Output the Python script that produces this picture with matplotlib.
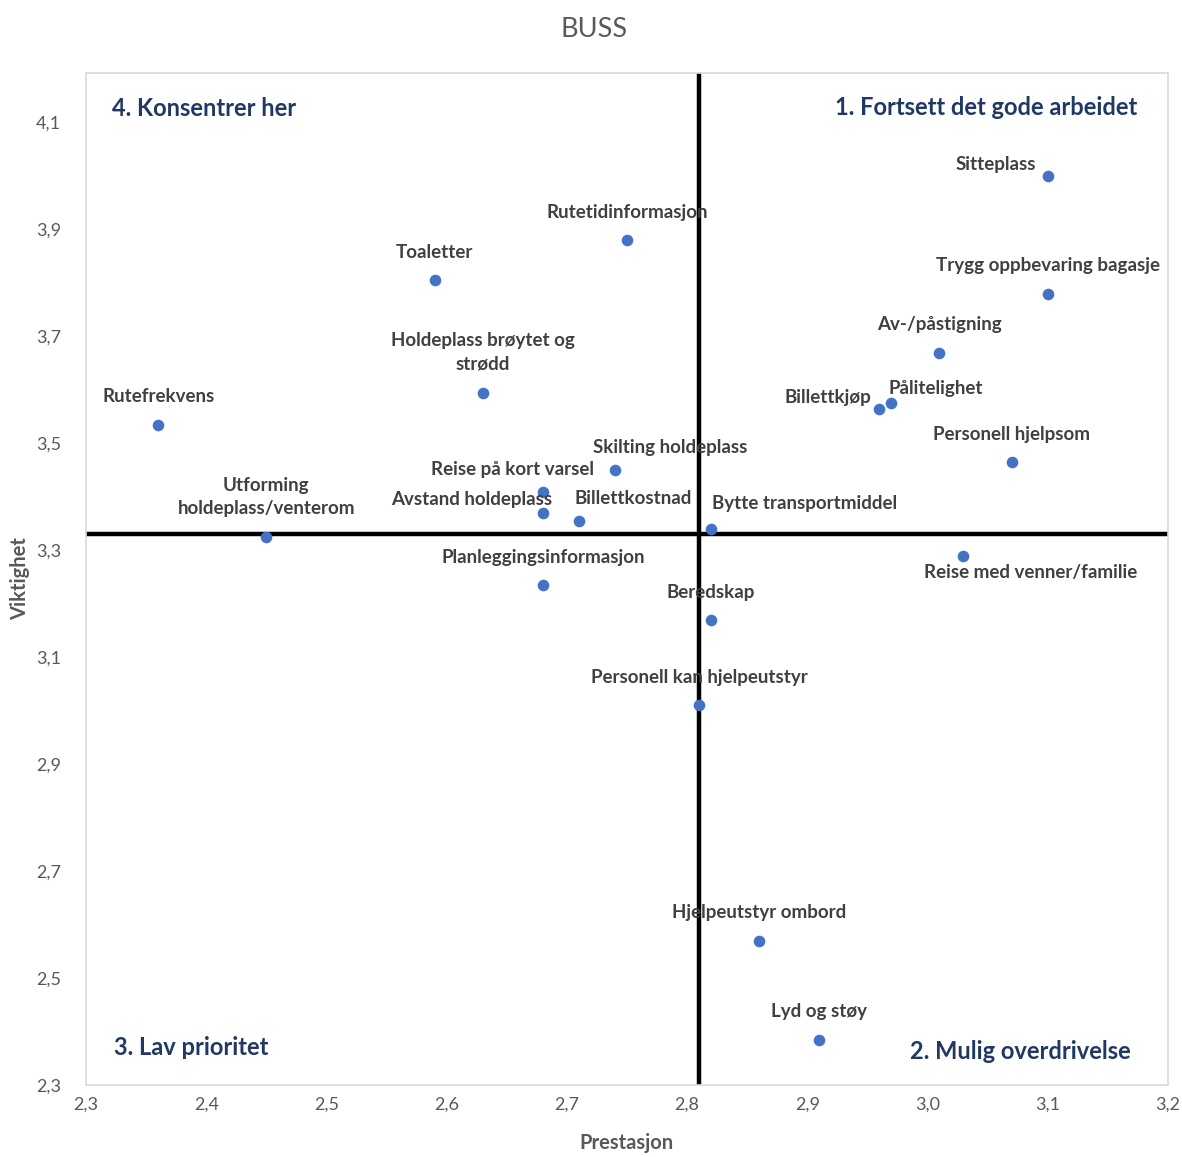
import matplotlib.pyplot as plt
from matplotlib.ticker import FuncFormatter

# Prestasjon (x) og viktighet (y) per faktor
faktorer = ["Sitteplass", "Trygg oppbevaring bagasje", "Av-/påstigning", "Pålitelighet",
            "Billettkjøp", "Personell hjelpsom", "Reise med venner/familie",
            "Bytte transportmiddel", "Beredskap", "Personell kan hjelpeutstyr",
            "Hjelpeutstyr ombord", "Lyd og støy", "Rutetidinformasjon", "Toaletter",
            "Holdeplass brøytet og\nstrødd", "Rutefrekvens", "Skilting holdeplass",
            "Reise på kort varsel", "Avstand holdeplass", "Billettkostnad",
            "Utforming\nholdeplass/venterom", "Planleggingsinformasjon"]
prestasjon = [3.10, 3.10, 3.01, 2.97, 2.96, 3.07, 3.03, 2.82, 2.82, 2.81, 2.86, 2.91,
              2.75, 2.59, 2.63, 2.36, 2.74, 2.68, 2.68, 2.71, 2.45, 2.68]
viktighet = [4.00, 3.78, 3.67, 3.575, 3.565, 3.465, 3.29, 3.34, 3.17, 3.01, 2.57, 2.385,
             3.88, 3.805, 3.595, 3.535, 3.45, 3.41, 3.37, 3.355, 3.325, 3.235]

# skillelinjer mellom kvadrantene
skille_x = 2.81
skille_y = 3.33

# etikettplassering: (dx, dy) i punkter, horisontal justering
etikett_pos = {
    "Sitteplass": (-8, 8, "right"),
    "Pålitelighet": (-2, 11, "left"),
    "Billettkjøp": (-6, 8, "right"),
    "Reise med venner/familie": (48, -12, "center"),
    "Bytte transportmiddel": (1, 18, "left"),
    "Skilting holdeplass": (-16, 16, "left"),
    "Reise på kort varsel": (37, 16, "right"),
    "Avstand holdeplass": (7, 10, "right"),
    "Billettkostnad": (-3, 16, "left"),
    "Holdeplass brøytet og\nstrødd": (0, 29, "center"),
    "Utforming\nholdeplass/venterom": (0, 29, "center"),
}

plt.rcParams['font.family'] = ['Lato', 'DejaVu Sans']

fig = plt.figure(figsize=(11.82, 11.57), dpi=100)
ax = fig.add_axes([0.0728, 0.0622, 0.9152, 0.8748])

ax.axvline(skille_x, color="black", lw=3.2, zorder=1)
ax.axhline(skille_y, color="black", lw=3.2, zorder=1)
ax.scatter(prestasjon, viktighet, s=70, color="#4472C4", zorder=3, linewidths=0)

for navn, x, y in zip(faktorer, prestasjon, viktighet):
    dx, dy, ha = etikett_pos.get(navn, (0, 20, "center"))
    ax.annotate(navn, (x, y), xytext=(dx, dy), textcoords="offset points",
                ha=ha, va="center", fontsize=13.5, fontweight="bold",
                color="#404040", linespacing=1.45, zorder=4)

kvadrant_farge = "#203864"
ax.text(0.024, 0.965, "4. Konsentrer her", transform=ax.transAxes, ha="left", va="center",
        fontsize=17, fontweight="bold", color=kvadrant_farge)
ax.text(0.972, 0.966, "1. Fortsett det gode arbeidet", transform=ax.transAxes, ha="right",
        va="center", fontsize=17, fontweight="bold", color=kvadrant_farge)
ax.text(0.026, 0.037, "3. Lav prioritet", transform=ax.transAxes, ha="left", va="center",
        fontsize=17, fontweight="bold", color=kvadrant_farge)
ax.text(0.966, 0.033, "2. Mulig overdrivelse", transform=ax.transAxes, ha="right",
        va="center", fontsize=17, fontweight="bold", color=kvadrant_farge)

ax.set_xlim(2.3, 3.2)
ax.set_ylim(2.3, 4.193)
ax.set_xticks([2.3 + 0.1 * i for i in range(10)])
ax.set_yticks([2.3 + 0.2 * i for i in range(10)])
komma = FuncFormatter(lambda v, p: f"{v:.1f}".replace(".", ","))
ax.xaxis.set_major_formatter(komma)
ax.yaxis.set_major_formatter(komma)
ax.tick_params(length=0, labelsize=13, labelcolor="#595959", pad=8)
ax.tick_params(axis="y", pad=18)
for s in ax.spines.values():
    s.set_color("#D9D9D9")
    s.set_linewidth(1.2)

ax.set_xlabel("Prestasjon", fontsize=14.5, fontweight="bold", color="#595959", labelpad=15)
ax.set_ylabel("Viktighet", fontsize=14.5, fontweight="bold", color="#595959", labelpad=4)
fig.suptitle("BUSS", x=0.503, y=0.985, fontsize=19.5, color="#595959")

fig.savefig("out.png", dpi=100)
